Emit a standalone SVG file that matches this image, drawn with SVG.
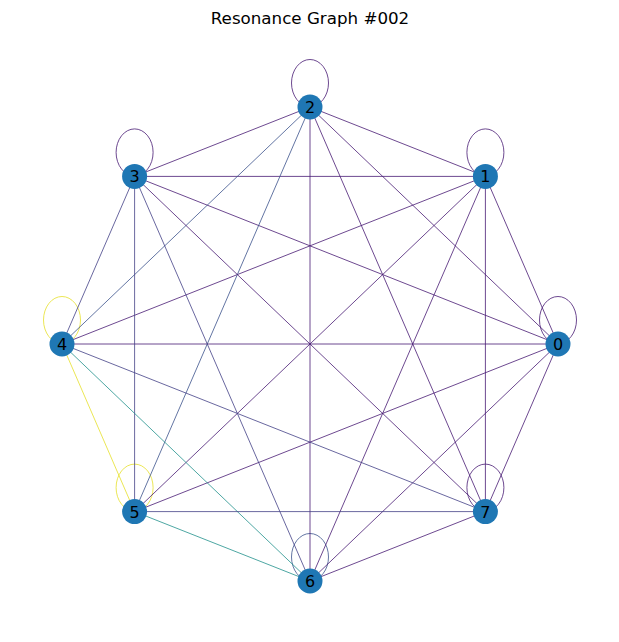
<svg xmlns="http://www.w3.org/2000/svg" width="619" height="642" viewBox="0 0 619 642">
<style>
.e{fill:none;stroke-width:0.8}
.p{stroke:#471a73}
.b{stroke:#3b528b}
.bp{stroke:#424086}
.t{stroke:#21918c}
.y{stroke:#e6e02a}
.n{fill:#1f77b4}
.l{font-family:"DejaVu Sans",sans-serif;font-size:16px;text-anchor:middle;fill:#000}
.title{font-family:"DejaVu Sans",sans-serif;font-size:16.7px;text-anchor:middle;fill:#000}
</style>
<defs>
<ellipse id="loop" cx="0" cy="-24" rx="18.5" ry="23.5"/>
</defs>
<rect width="619" height="642" fill="#fff"/>
<text class="title" x="310" y="24">Resonance Graph #002</text>
<g id="connectors">
<use href="#loop" class="e p" transform="translate(558,344)"/>
<use href="#loop" class="e p" transform="translate(485.4,176.4)"/>
<use href="#loop" class="e p" transform="translate(310,107)"/>
<use href="#loop" class="e p" transform="translate(134.6,176.4)"/>
<use href="#loop" class="e y" transform="translate(62,344)"/>
<use href="#loop" class="e y" transform="translate(134.6,511.6)"/>
<use href="#loop" class="e b" transform="translate(310,581)"/>
<use href="#loop" class="e p" transform="translate(485.4,511.6)"/>
<line class="e p" x1="558" y1="344" x2="485.4" y2="176.4"/>
<line class="e p" x1="558" y1="344" x2="310" y2="107"/>
<line class="e p" x1="558" y1="344" x2="134.6" y2="176.4"/>
<line class="e p" x1="558" y1="344" x2="62" y2="344"/>
<line class="e p" x1="558" y1="344" x2="134.6" y2="511.6"/>
<line class="e p" x1="558" y1="344" x2="310" y2="581"/>
<line class="e p" x1="558" y1="344" x2="485.4" y2="511.6"/>
<line class="e p" x1="485.4" y1="176.4" x2="310" y2="107"/>
<line class="e p" x1="485.4" y1="176.4" x2="134.6" y2="176.4"/>
<line class="e p" x1="485.4" y1="176.4" x2="62" y2="344"/>
<line class="e p" x1="485.4" y1="176.4" x2="134.6" y2="511.6"/>
<line class="e p" x1="485.4" y1="176.4" x2="310" y2="581"/>
<line class="e p" x1="485.4" y1="176.4" x2="485.4" y2="511.6"/>
<line class="e p" x1="310" y1="107" x2="134.6" y2="176.4"/>
<line class="e b" x1="310" y1="107" x2="62" y2="344"/>
<line class="e b" x1="310" y1="107" x2="134.6" y2="511.6"/>
<line class="e p" x1="310" y1="107" x2="310" y2="581"/>
<line class="e p" x1="310" y1="107" x2="485.4" y2="511.6"/>
<line class="e bp" x1="134.6" y1="176.4" x2="62" y2="344"/>
<line class="e bp" x1="134.6" y1="176.4" x2="134.6" y2="511.6"/>
<line class="e bp" x1="134.6" y1="176.4" x2="310" y2="581"/>
<line class="e p" x1="134.6" y1="176.4" x2="485.4" y2="511.6"/>
<line class="e y" x1="62" y1="344" x2="134.6" y2="511.6"/>
<line class="e t" x1="62" y1="344" x2="310" y2="581"/>
<line class="e bp" x1="62" y1="344" x2="485.4" y2="511.6"/>
<line class="e t" x1="134.6" y1="511.6" x2="310" y2="581"/>
<line class="e bp" x1="134.6" y1="511.6" x2="485.4" y2="511.6"/>
<line class="e p" x1="310" y1="581" x2="485.4" y2="511.6"/>
</g>
<g id="node0"><circle class="n" cx="558" cy="344" r="12.5"/><text class="l" x="558" y="350">0</text></g>
<g id="node1"><circle class="n" cx="485.4" cy="176.4" r="12.5"/><text class="l" x="485.4" y="182.4">1</text></g>
<g id="node2"><circle class="n" cx="310" cy="107" r="12.5"/><text class="l" x="310" y="113">2</text></g>
<g id="node3"><circle class="n" cx="134.6" cy="176.4" r="12.5"/><text class="l" x="134.6" y="182.4">3</text></g>
<g id="node4"><circle class="n" cx="62" cy="344" r="12.5"/><text class="l" x="62" y="350">4</text></g>
<g id="node5"><circle class="n" cx="134.6" cy="511.6" r="12.5"/><text class="l" x="134.6" y="517.6">5</text></g>
<g id="node6"><circle class="n" cx="310" cy="581" r="12.5"/><text class="l" x="310" y="587">6</text></g>
<g id="node7"><circle class="n" cx="485.4" cy="511.6" r="12.5"/><text class="l" x="485.4" y="517.6">7</text></g>
</svg>
